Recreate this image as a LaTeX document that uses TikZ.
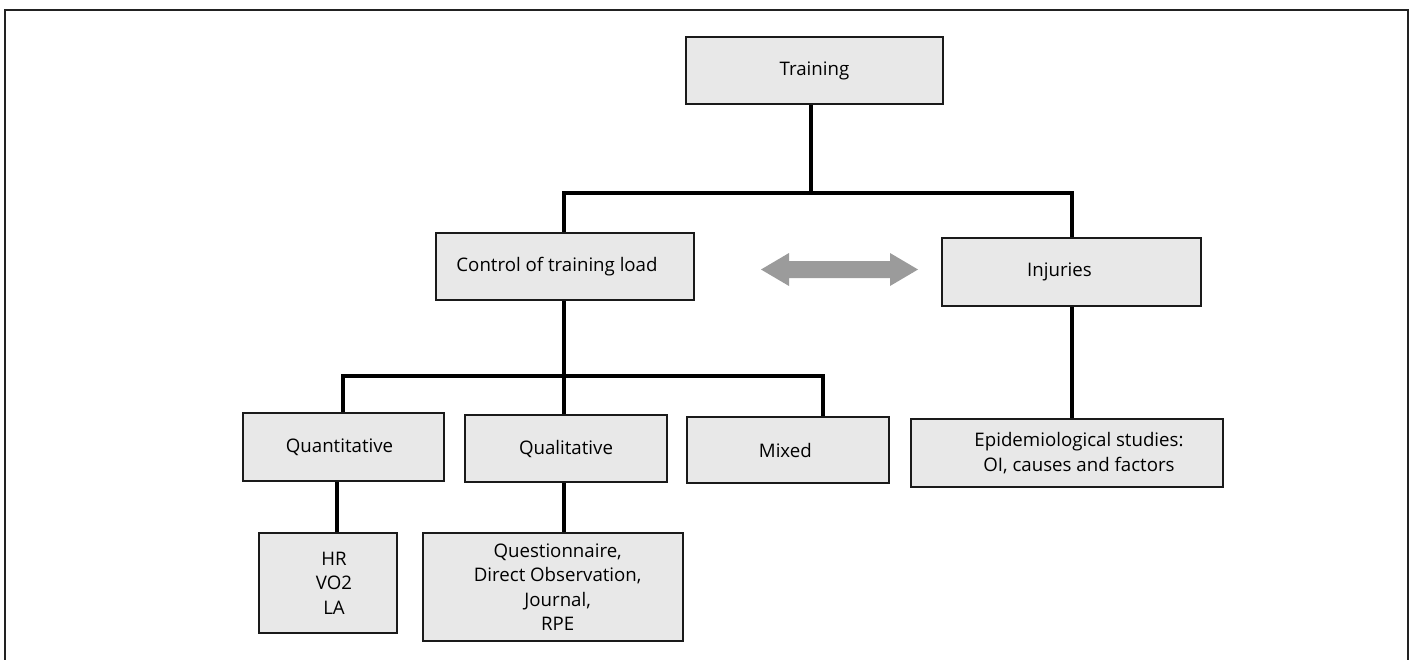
\documentclass[tikz,border=0pt]{standalone}
\usepackage{fontspec}
\setmainfont{Open Sans}
\usetikzlibrary{calc}
\definecolor{boxfill}{HTML}{E8E8E8}
\definecolor{boxline}{HTML}{1A1A1A}
\definecolor{arrowgray}{HTML}{9B9B9B}
\definecolor{framecol}{HTML}{222222}
\begin{document}
\begin{tikzpicture}[x=0.75pt,y=-0.75pt,
  box/.style={draw=boxline, line width=1.6pt, fill=boxfill, align=center,
    inner sep=0pt, font=\fontsize{14pt}{18.4pt}\selectfont},
  link/.style={draw=black, line width=2.5pt},
  frameline/.style={draw=framecol, line width=2pt}]
\useasboundingbox (0,0) rectangle (1413,660);
% open frame (left, top, right)
\draw[frameline] (5,660) -- (5,10) -- (1408,10) -- (1408,660);

% boxes
\node[box, minimum width=192.75pt, minimum height=50.25pt] (train) at (814.5,70.5) {Training};
\node[box, minimum width=193.5pt, minimum height=50.25pt] (ctrl) at (565,266.5) {\hspace*{-12pt}Control of training load};
\node[box, minimum width=194.25pt, minimum height=51pt] (inj) at (1071.5,272) {\hspace*{-18pt}Injuries};
\node[box, minimum width=150.75pt, minimum height=51pt] (quant) at (343.5,447) {\hspace*{-6pt}Quantitative};
\node[box, minimum width=151.5pt, minimum height=50.25pt] (qual) at (566,448.5) {Qualitative};
\node[box, minimum width=151.5pt, minimum height=49.5pt] (mixed) at (788,450) {\hspace*{-4pt}Mixed};
\node[box, minimum width=234pt, minimum height=51pt] (epi) at (1067,453) {\hspace*{18pt}Epidemiological studies:\\\hspace*{18pt}OI, causes and factors};
\node[box, minimum width=103.5pt, minimum height=75pt] (hr) at (328,583) {\hspace*{9pt}HR\\\hspace*{9pt}VO2\\\hspace*{9pt}LA};
\node[box, minimum width=195pt, minimum height=81pt] (quest) at (553,587) {\hspace*{7pt}Questionnaire,\\\hspace*{7pt}Direct Observation,\\\hspace*{7pt}Journal,\\\hspace*{7pt}RPE};

% junction points of the tree
\coordinate (j1) at (811,193);
\coordinate (j2) at (564,376);

% connectors
\draw[link] (811,0 |- train.south) -- (j1);
\draw[link] (564,0 |- ctrl.north) |- (j1) -| (1072,0 |- inj.north);
\draw[link] (564,0 |- ctrl.south) -- (j2);
\draw[link] (343,0 |- quant.north) |- (j2) -| (823,0 |- mixed.north);
\draw[link] (j2) -- (564,0 |- qual.north);
\draw[link] (337,0 |- quant.south) -- (337,0 |- hr.north);
\draw[link] (564,0 |- qual.south) -- (564,0 |- quest.north);
\draw[link] (1072,0 |- inj.south) -- (1072,0 |- epi.north);

% two-way relation between load control and injuries
\coordinate (al) at (761,269.5);
\coordinate (ar) at (918,269.5);
\fill[arrowgray] (al) -- ++(28,-16.5) -- ++(0,8) -- ($(ar)+(-28,-8.5)$) -- ++(0,-8) -- (ar)
  -- ++(-28,16.5) -- ++(0,-8) -- ($(al)+(28,8.5)$) -- ++(0,8) -- cycle;
\end{tikzpicture}
\end{document}
